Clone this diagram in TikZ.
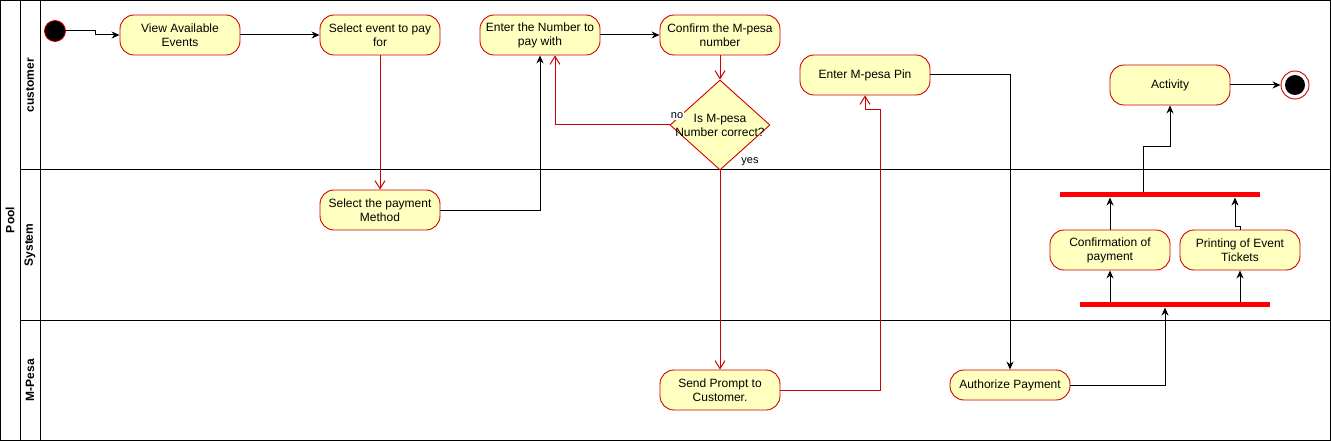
\documentclass[tikz,border=0pt]{standalone}
\usepackage{fontspec}
\setmainfont{Liberation Sans}
\usetikzlibrary{arrows.meta,shapes.geometric}
\definecolor{actfill}{HTML}{FFFFC0}
\definecolor{actline}{HTML}{D00000}
\begin{document}
\begin{tikzpicture}[x=1pt,y=-1pt,line width=1pt,
  font=\fontsize{12}{14}\selectfont,
  act/.style={draw=actline,fill=actfill,rounded corners=14pt,minimum width=120pt,minimum height=40pt,inner sep=0pt,align=center,line width=0.9pt},
  bar/.style={fill=red,minimum width=200pt,minimum height=5pt,inner sep=0pt},
  blk/.style={draw=black,-{Stealth[length=8pt,width=7pt]}},
  redl/.style={draw=actline,-{Straight Barb[length=8pt,width=10pt]}},
  lane/.style={font=\bfseries\fontsize{12}{14}\selectfont,rotate=90}]
\useasboundingbox (0,0) rectangle (1331,441);
% pool frame
\draw[line width=1pt] (0.5,0.5) rectangle (1330.5,440.5);
\draw (20,0.5) -- (20,440.5);
\draw (40,0.5) -- (40,440.5);
\draw (20,170) -- (1330.5,170);
\draw (20,320) -- (1330.5,320);
\node[lane] (pool) at (10,220) {Pool};
\node[lane] (lc) at (30,85) {customer};
\node[lane] (ls) at (30,245) {System};
\node[lane] (lm) at (30,380) {M-Pesa};
% nodes
\node[circle,fill=black,draw=actline,minimum size=21pt,inner sep=0pt,line width=0.8pt] (start) at (55,31) {};
\node[act] (view) at (180,35) {View Available\\Events};
\node[act] (selev) at (380,35) {Select event to pay\\for};
\node[act] (enter) at (540,35) {Enter the Number to\\pay with};
\node[act] (conf) at (720,35) {Confirm the M-pesa\\number};
\node[diamond,draw=actline,fill=actfill,minimum width=100pt,minimum height=90pt,inner sep=0pt,line width=0.9pt] (dia) at (720,125) {};
\node[align=center,inner sep=0pt] (diat) at (720,125) {Is M-pesa\\Number correct?};
\node[act,minimum width=130pt] (pin) at (865,75) {Enter M-pesa Pin};
\node[act] (activ) at (1170,85) {Activity};
\node[circle,draw=actline,fill=white,minimum size=28pt,inner sep=0pt,line width=0.9pt] (endo) at (1295,85) {};
\node[circle,fill=black,minimum size=20pt,inner sep=0pt] (endi) at (1295,85) {};
\node[act] (selpm) at (380,210) {Select the payment\\Method};
\node[act] (cpay) at (1110,250) {Confirmation of\\payment};
\node[act] (print) at (1240,250) {Printing of Event\\Tickets};
\node[bar] (bar1) at (1160,194.5) {};
\node[bar,minimum width=190pt] (bar2) at (1175,304.5) {};
\node[act] (send) at (720,390) {Send Prompt to\\Customer.};
\node[act,minimum height=30pt] (auth) at (1010,385) {Authorize Payment};
\node[fill=white,inner sep=1pt,font=\fontsize{11}{13}\selectfont] (no) at (677,116) {no};
\node[inner sep=1pt,font=\fontsize{11}{13}\selectfont] (yes) at (750,162) {yes};
\coordinate (c1) at (880,110);
% edges
\draw[blk] (start.east) -- ++(30,0) |- (view.west);
\draw[blk] (view.east) -- (selev.west);
\draw[redl] (selev.south) -- (selpm.north);
\draw[blk] (selpm.east) -| (enter.south);
\draw[blk] (enter.east) -- (conf.west);
\draw[redl] (conf.south) -- (dia.north);
\draw[redl] (dia.west) -| ([xshift=15pt]enter.south);
\draw[redl] (dia.south) -- (send.north);
\draw[redl] (send.east) -| (c1) -| (pin.south);
\draw[blk] (pin.east) -| (auth.north);
\draw[blk] (auth.east) -| ([xshift=-10pt]bar2.south);
\draw[blk] (cpay.south |- bar2.north) -- (cpay.south);
\draw[blk] (print.south |- bar2.north) -- (print.south);
\draw[blk] (cpay.north) -- (cpay.north |- bar1.south);
\draw[blk] (print.north) -- ++(0,-3) -| ([xshift=-5pt]print.north |- bar1.south);
\draw[blk] ([xshift=-17pt]bar1.north) -- ++(0,-45) -| (activ.south);
\draw[blk] (activ.east) -- (endo.west);
\end{tikzpicture}
\end{document}
